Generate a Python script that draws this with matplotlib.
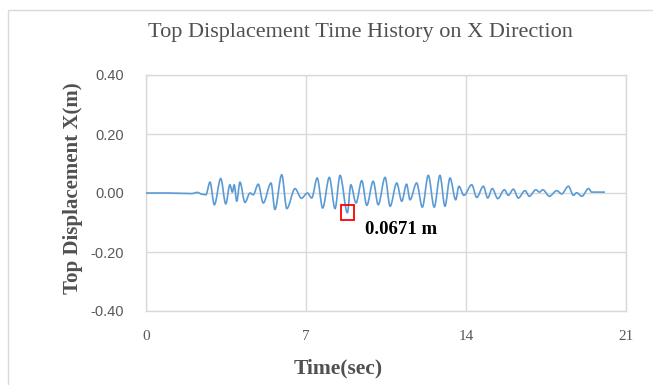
import matplotlib
matplotlib.use("Agg")
import matplotlib.pyplot as plt
from matplotlib.patches import Rectangle, PathPatch
from matplotlib.path import Path
import numpy as np

# Top displacement response in X (peaks and valleys of the record)
time_sec = [
    0.00, 0.95, 2.00, 2.25, 2.45, 2.62, 2.80, 2.99, 3.27, 3.49, 3.67, 3.78, 3.86,
    3.97, 4.11, 4.33, 4.55, 4.69, 4.91, 5.13, 5.47, 5.64, 5.94, 6.16, 6.52,
    6.80, 7.06, 7.25, 7.49, 7.73, 8.02, 8.27, 8.49, 8.81, 8.96, 9.19, 9.44,
    9.66, 9.94, 10.16, 10.46, 10.68, 10.97, 11.19, 11.40, 11.55, 11.84, 12.09,
    12.35, 12.61, 12.86, 13.08, 13.30, 13.55, 13.69, 13.91, 14.25, 14.47,
    14.76, 14.95, 15.15, 15.39, 15.68, 15.85, 16.07, 16.29, 16.58, 16.77,
    17.06, 17.21, 17.36, 17.65, 17.97, 18.19, 18.48, 18.70, 18.84, 19.07,
    19.36, 19.50, 20.08,
]
top_disp_x = [
    0.000, 0.000, -0.002, 0.002, -0.004, -0.006, 0.037, -0.040, 0.049, -0.037,
    0.028, 0.003, 0.028, -0.028, 0.037, -0.032, 0.000, -0.006, 0.030, -0.034,
    0.034, -0.056, 0.062, -0.053, 0.015, -0.018, 0.000, -0.017, 0.051, -0.051,
    0.053, -0.053, 0.060, -0.0671, 0.028, -0.034, 0.042, -0.042, 0.040, -0.040,
    0.053, -0.045, 0.034, -0.028, 0.030, -0.023, 0.034, -0.048, 0.060, -0.048,
    0.060, -0.045, 0.051, -0.023, 0.023, -0.008, 0.028, -0.015, 0.023, -0.017,
    0.015, -0.019, 0.011, -0.008, 0.013, -0.017, 0.008, -0.011, 0.011, 0.003,
    0.011, -0.011, 0.008, -0.003, 0.023, -0.008, 0.001, -0.011, 0.015, 0.003,
    0.003,
]

x_ticks = [0, 7, 14, 21]
y_ticks = [-0.40, -0.20, 0.00, 0.20, 0.40]

title_text = "Top Displacement Time History on X Direction"
x_label = "Time(sec)"
y_label = "Top Displacement X(m)"

SERIF = ["Liberation Serif", "DejaVu Serif"]
NARROW = ["Liberation Sans Narrow", "Liberation Sans", "DejaVu Sans"]
GRID = "#d9d9d9"
TICK_COLOR = "#595959"
LABEL_COLOR = "#505050"
LINE_BLUE = "#5b9bd5"


def smooth_extrema_path(ts, ds):
    """Cubic Bezier path through successive extrema, flat tangent at each."""
    verts = [(ts[0], ds[0])]
    codes = [Path.MOVETO]
    for i in range(len(ts) - 1):
        dt = ts[i + 1] - ts[i]
        verts += [(ts[i] + dt / 3, ds[i]), (ts[i + 1] - dt / 3, ds[i + 1]),
                  (ts[i + 1], ds[i + 1])]
        codes += [Path.CURVE4] * 3
    return Path(verts, codes)


fig = plt.figure(figsize=(6.53, 3.85), dpi=100)
fig.patch.set_facecolor("white")

# chart frame (left and top edges visible)
fig.add_artist(Rectangle((8 / 653, -0.05), 1.1, 1 - 10 / 385 + 0.05,
                         transform=fig.transFigure, fill=False,
                         edgecolor="#d9d9d9", linewidth=1.0))

ax = fig.add_axes([146 / 653, 1 - 311 / 385, 480 / 653, 236 / 385])
ax.add_patch(PathPatch(smooth_extrema_path(time_sec, top_disp_x),
                       facecolor="none", edgecolor=LINE_BLUE, linewidth=1.2,
                       joinstyle="round", zorder=3))

ax.set_xlim(0, 21)
ax.set_ylim(-0.40, 0.40)
ax.set_xticks(x_ticks)
ax.set_yticks(y_ticks)
ax.set_xticklabels([str(v) for v in x_ticks], fontfamily=SERIF, fontsize=11,
                   color=TICK_COLOR)
ax.set_yticklabels([f"{v:.2f}" for v in y_ticks], fontfamily=NARROW,
                   fontsize=10.5, color=TICK_COLOR)
ax.tick_params(axis="x", length=0, pad=14)
ax.tick_params(axis="y", length=0, pad=16)
ax.grid(True, color=GRID, linewidth=1.0, zorder=0)
for sp in ax.spines.values():
    sp.set_color(GRID)
    sp.set_linewidth(1.0)

ax.set_xlabel(x_label, fontfamily=SERIF, fontweight="bold", fontsize=15.5,
              color=LABEL_COLOR)
ax.xaxis.set_label_coords((338 - 146) / 480, (311 - 358) / 236)
ax.set_ylabel(y_label, fontfamily=SERIF, fontweight="bold", fontsize=15,
              color=LABEL_COLOR)
ax.yaxis.set_label_coords((83 - 146) / 480, (311 - 188) / 236)
fig.text(360 / 653, 1 - 33 / 385, title_text, fontfamily=SERIF, fontsize=16,
         color=LABEL_COLOR, ha="center", va="center")

# mark and label the peak negative displacement
i_min = int(np.argmin(top_disp_x))
t_min, d_min = time_sec[i_min], top_disp_x[i_min]
box_w, box_h = 13 / 480 * 21, 15 / 236 * 0.8
ax.add_patch(Rectangle((t_min - box_w / 2, d_min - box_h / 2), box_w, box_h,
                       fill=False, edgecolor="#ff0000", linewidth=1.3, zorder=4))
ax.annotate(f"{abs(d_min):.4f} m", xy=(t_min, d_min), xytext=(39, -12),
            textcoords="offset points", ha="center", va="center",
            fontfamily=SERIF, fontweight="bold", fontsize=13.5, color="black")

fig.savefig("out.png", dpi=100, facecolor="white")
